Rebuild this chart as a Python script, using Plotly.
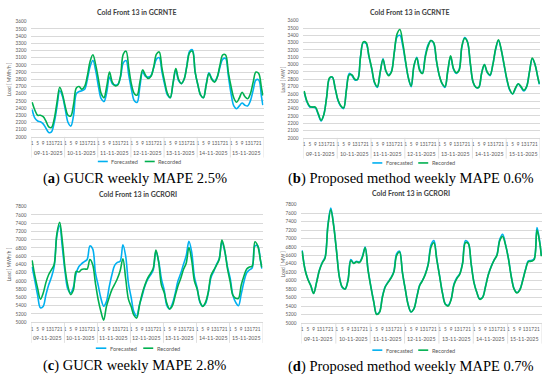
import plotly.graph_objects as go

W, H = 550, 382

DATES = ["09-11-2025", "10-11-2025", "11-11-2025", "12-11-2025",
         "13-11-2025", "14-11-2025", "15-11-2025"]
HOUR_TICKS = [1, 5, 9, 13, 17, 21]
SAMPLE_HOURS = [1, 3, 5, 7, 9, 11, 13, 15, 17, 19, 21, 23]
FINAL_HOUR = 24
SERIES_NAMES = ["Forecasted", "Recorded"]

# ---- (a) GCRNTE, GUCR forecast [MWh/h] ----
A_FORECASTED = [
    2380, 2260, 2220, 2210, 2180, 2120, 2060, 2070, 2200, 2420, 2640, 2560,
    2380, 2200, 2150, 2300, 2600, 2630, 2640, 2660, 2800, 2980, 3060, 2920,
    2700, 2530, 2490, 2620, 2830, 2740, 2720, 2730, 2830, 3030, 3060, 2850,
    2650, 2500, 2480, 2700, 2900, 2840, 2830, 2850, 2960, 3080, 3100, 2900,
    2720, 2580, 2545, 2740, 2930, 2780, 2740, 2800, 2990, 3190, 3210, 2900,
    2720, 2580, 2545, 2730, 2890, 2810, 2770, 2830, 2970, 3080, 3090, 2850,
    2600, 2430, 2390, 2430, 2470, 2440, 2430, 2500, 2650, 2790, 2790, 2560,
    2440]
A_RECORDED = [
    2480, 2370, 2300, 2300, 2280, 2220, 2140, 2130, 2250, 2480, 2690, 2590,
    2420, 2300, 2290, 2450, 2680, 2700, 2660, 2700, 2850, 3050, 3140, 3000,
    2800, 2600, 2545, 2700, 2900, 2760, 2710, 2720, 2850, 3150, 3190, 2950,
    2720, 2600, 2580, 2760, 2930, 2860, 2810, 2840, 2970, 3150, 3180, 2950,
    2760, 2600, 2545, 2750, 2950, 2800, 2740, 2800, 2980, 3170, 3190, 2900,
    2720, 2580, 2545, 2720, 2880, 2800, 2760, 2830, 3000, 3140, 3140, 2900,
    2700, 2540, 2480, 2540, 2620, 2560, 2530, 2600, 2760, 2900, 2880, 2680,
    2575]

# ---- (b) GCRNTE, proposed method [MW] ----
B_FORECASTED = [
    2630, 2490, 2420, 2420, 2410, 2320, 2230, 2320, 2560, 2810, 2830, 2680,
    2510, 2430, 2400, 2660, 2880, 2850, 2790, 2800, 3110, 3300, 3290, 3110,
    2940, 2750, 2690, 2890, 3080, 2910, 2860, 2910, 3160, 3380, 3400, 3260,
    3030, 2820, 2700, 2980, 3100, 2940, 2880, 3120, 3270, 3330, 3290, 3040,
    2850, 2740, 2690, 2910, 3110, 2940, 2880, 2930, 3240, 3370, 3310, 3010,
    2760, 2690, 2690, 2880, 3000, 2890, 2850, 3000, 3210, 3330, 3200, 2990,
    2790, 2650, 2600, 2670, 2740, 2690, 2640, 2700, 2900, 3080, 3000, 2820,
    2730]
B_RECORDED = [
    2640, 2500, 2430, 2420, 2420, 2330, 2240, 2320, 2560, 2820, 2830, 2680,
    2520, 2440, 2410, 2650, 2860, 2860, 2800, 2800, 3100, 3310, 3300, 3120,
    2950, 2760, 2700, 2900, 3070, 2920, 2850, 2900, 3170, 3420, 3480, 3300,
    3050, 2820, 2710, 2990, 3090, 2920, 2880, 3100, 3250, 3330, 3300, 3050,
    2850, 2740, 2700, 2920, 3120, 2950, 2890, 2920, 3250, 3360, 3310, 3020,
    2760, 2690, 2690, 2880, 3000, 2900, 2860, 3000, 3220, 3340, 3200, 3000,
    2800, 2660, 2600, 2680, 2740, 2700, 2650, 2700, 2900, 3090, 3000, 2820,
    2740]

# ---- (c) GCRORI, GUCR forecast [MWh/h] ----
C_FORECASTED = [
    6340, 6000, 5650, 5350, 5380, 5660, 5900, 6090, 6350, 7100, 7340, 6800,
    6200, 5800, 5710, 5850, 6180, 6350, 6420, 6470, 6520, 6850, 6780, 6200,
    5900, 5580, 5390, 5500, 5850, 6150, 6380, 6450, 6480, 6880, 6600, 5950,
    5600, 5250, 5150, 5420, 5640, 5880, 6040, 6140, 6260, 6720, 6480, 6050,
    5780, 5400, 5320, 5450, 5700, 6000, 6180, 6400, 6610, 6960, 6700, 6100,
    5830, 5480, 5390, 5450, 5700, 6080, 6230, 6400, 6540, 6950, 6720, 6350,
    6060, 5650, 5480, 5400, 5680, 5980, 6200, 6270, 6320, 6850, 6850, 6500,
    6300]
C_RECORDED = [
    6500, 6120, 5820, 5560, 5700, 5960, 6150, 6270, 6400, 7150, 7420, 6950,
    6280, 5880, 5670, 5780, 6230, 6220, 6280, 6290, 6290, 6520, 6400, 5950,
    5550, 5260, 5050, 5380, 5600, 5790, 5920, 6060, 6250, 6540, 6060, 5560,
    5380, 5170, 5100, 5400, 5690, 5900, 6070, 6180, 6300, 6750, 6450, 5900,
    5720, 5450, 5320, 5400, 5640, 5880, 6060, 6280, 6430, 6810, 6500, 6000,
    5800, 5500, 5380, 5480, 5720, 6130, 6260, 6380, 6520, 6990, 6750, 6300,
    5980, 5650, 5580, 5580, 5900, 6120, 6290, 6340, 6360, 6950, 6850, 6500,
    6330]

# ---- (d) GCRORI, proposed method [MW] ----
D_FORECASTED = [
    6720, 6270, 6040, 5890, 5700, 5960, 6250, 6430, 6560, 7330, 7720, 7320,
    6700, 6090, 5840, 5810, 6020, 6500, 6420, 6460, 6440, 6570, 6800, 6260,
    5860, 5500, 5210, 5260, 5620, 5860, 5970, 6070, 6220, 6640, 6700, 6200,
    5800, 5440, 5260, 5330, 5610, 5890, 6010, 6160, 6390, 6850, 6950, 6520,
    6110, 5710, 5450, 5420, 5560, 5920, 6070, 6160, 6420, 6950, 6900, 6410,
    5960, 5720, 5570, 5610, 5860, 6140, 6340, 6490, 6610, 6980, 7100, 6860,
    6540, 6110, 5810, 5720, 5790, 6010, 6270, 6470, 6480, 6520, 7260, 6900,
    6600]
D_RECORDED = [
    6700, 6260, 6030, 5880, 5700, 5950, 6240, 6420, 6540, 7300, 7680, 7300,
    6700, 6080, 5850, 5800, 6000, 6480, 6410, 6450, 6430, 6550, 6780, 6250,
    5850, 5500, 5200, 5250, 5600, 5850, 5960, 6060, 6200, 6600, 6680, 6200,
    5800, 5430, 5260, 5330, 5600, 5880, 6000, 6150, 6380, 6800, 6900, 6500,
    6100, 5700, 5440, 5400, 5550, 5900, 6050, 6150, 6400, 6900, 6880, 6400,
    5950, 5720, 5560, 5600, 5850, 6140, 6330, 6480, 6600, 6950, 7050, 6850,
    6530, 6100, 5800, 5710, 5780, 6000, 6260, 6450, 6460, 6500, 7200, 6880,
    6580]

TITLES = ["Cold Front 13 in GCRNTE", "Cold Front 13 in GCRNTE",
          "Cold Front 13 in GCRORI", "Cold Front 13 in GCRORI"]
Y_TITLES = ["Load [ MWh/h ]", "Load [ MW ]", "Load [ MWh/h ]", "Load [ MW ]"]
CAPTIONS = ["(<b>a</b>) GUCR weekly MAPE 2.5%",
            "(<b>b</b>) Proposed method weekly MAPE 0.6%",
            "(<b>c</b>) GUCR weekly MAPE 2.8%",
            "(<b>d</b>) Proposed method weekly MAPE 0.7%"]
Y_RANGES = [(2000, 3600), (2000, 3600), (5000, 7800), (5000, 7800)]
Y_STEPS = [100, 100, 200, 200]
SERIES = [(A_FORECASTED, A_RECORDED), (B_FORECASTED, B_RECORDED),
          (C_FORECASTED, C_RECORDED), (D_FORECASTED, D_RECORDED)]

# ---- layout geometry (pixels) ----
GEOM = [
    dict(l=30.5, r=263, t=19, b=136, title=(136, 9), yt=8, cap=(134, 178),
         leg=(161, 97, 107, 108.5, 144, 154, 155.5)),
    dict(l=303, r=540, t=18, b=137, title=(410, 9), yt=283, cap=(411, 178),
         leg=(162.5, 372, 382, 383.5, 418, 428, 429.5)),
    dict(l=30.5, r=262, t=207, b=324.3, title=(137, 194.5), yt=8, cap=(134, 368.5),
         leg=(350.7, 95, 105.5, 107, 142.5, 152.5, 154)),
    dict(l=301, r=542, t=205, b=325, title=(411, 193), yt=282, cap=(411, 369),
         leg=(352.7, 372, 382, 383.5, 418, 428, 429.5)),
]

BLUE = "#00B0F0"
GREEN = "#00B050"
GRID = "#D9D9D9"
TXT = "#595959"
SANS = "Lato"
SERIF = "Liberation Serif"


def px(x):
    return x / W


def py(y):
    return 1 - y / H


ndays = len(DATES)
xs = [d * 24 + h - 1 for d in range(ndays) for h in SAMPLE_HOURS]
xs.append((ndays - 1) * 24 + FINAL_HOUR - 1)
tickvals = [d * 24 + h - 1 for d in range(ndays) for h in HOUR_TICKS]
ticktext = [str(h) for d in range(ndays) for h in HOUR_TICKS]

fig = go.Figure()
shapes, annotations = [], []

for i, (g, (fc, rc)) in enumerate(zip(GEOM, SERIES)):
    n = i + 1
    xa = "x" if n == 1 else f"x{n}"
    ya = "y" if n == 1 else f"y{n}"
    for vals, color, name in ((fc, BLUE, SERIES_NAMES[0]), (rc, GREEN, SERIES_NAMES[1])):
        fig.add_trace(go.Scatter(
            x=xs, y=vals, xaxis=xa, yaxis=ya, mode="lines", name=name,
            line=dict(color=color, width=1.6, shape="spline", smoothing=1.0),
            showlegend=False, hoverinfo="skip"))

    xkey = "xaxis" if n == 1 else f"xaxis{n}"
    ykey = "yaxis" if n == 1 else f"yaxis{n}"
    fig.update_layout({
        xkey: dict(domain=[px(g["l"]), px(g["r"])], range=[-0.5, ndays * 24 - 0.5],
                   anchor=ya, tickmode="array", tickvals=tickvals, ticktext=ticktext,
                   tickangle=0, tickfont=dict(family=SANS, size=4.7, color=TXT),
                   showgrid=False, zeroline=False, showline=True, linecolor=GRID,
                   linewidth=0.8, ticks="", ticklabelstandoff=2, fixedrange=True),
        ykey: dict(domain=[py(g["b"]), py(g["t"])], range=list(Y_RANGES[i]),
                   anchor=xa, dtick=Y_STEPS[i], tick0=Y_RANGES[i][0],
                   tickfont=dict(family=SANS, size=4.7, color=TXT),
                   showgrid=True, gridcolor=GRID, gridwidth=0.8, zeroline=False,
                   showline=False, ticks="", ticklabelstandoff=4, fixedrange=True),
    })

    # category group dividers and date labels
    for d in range(ndays + 1):
        shapes.append(dict(type="line", xref=xa, yref="paper",
                           x0=d * 24 - 0.5, x1=d * 24 - 0.5,
                           y0=py(g["b"]), y1=py(g["b"] + 21),
                           line=dict(color=GRID, width=0.8)))
    for d, lab in enumerate(DATES):
        annotations.append(dict(x=d * 24 + 11.5, y=py(g["b"] + 16), xref=xa, yref="paper",
                                text=lab, showarrow=False, xanchor="center", yanchor="middle",
                                font=dict(family=SANS, size=5.3, color=TXT)))

    # chart title
    annotations.append(dict(x=px(g["title"][0]), y=py(g["title"][1]), xref="paper", yref="paper",
                            text=f"<b>{TITLES[i]}</b>", showarrow=False,
                            xanchor="center", yanchor="middle",
                            font=dict(family=SANS, size=7.0, color="#404040")))
    # y-axis title
    annotations.append(dict(x=px(g["yt"]), y=py((g["t"] + g["b"]) / 2), xref="paper", yref="paper",
                            text=Y_TITLES[i], showarrow=False, textangle=-90,
                            xanchor="center", yanchor="middle",
                            font=dict(family=SANS, size=4.8, color=TXT)))
    # legend
    ly, b0, b1, bt, g0, g1, gt = g["leg"]
    shapes.append(dict(type="line", xref="paper", yref="paper", x0=px(b0), x1=px(b1),
                       y0=py(ly), y1=py(ly), line=dict(color=BLUE, width=1.6)))
    shapes.append(dict(type="line", xref="paper", yref="paper", x0=px(g0), x1=px(g1),
                       y0=py(ly), y1=py(ly), line=dict(color=GREEN, width=1.6)))
    for tx, name in ((bt, SERIES_NAMES[0]), (gt, SERIES_NAMES[1])):
        annotations.append(dict(x=px(tx), y=py(ly), xref="paper", yref="paper", text=name,
                                showarrow=False, xanchor="left", yanchor="middle",
                                font=dict(family=SANS, size=5.6, color=TXT)))
    # caption
    annotations.append(dict(x=px(g["cap"][0]), y=py(g["cap"][1]), xref="paper", yref="paper",
                            text=CAPTIONS[i], showarrow=False, xanchor="center", yanchor="middle",
                            font=dict(family=SERIF, size=14.5, color="#000000")))

fig.update_layout(width=W, height=H, margin=dict(l=0, r=0, t=0, b=0),
                  paper_bgcolor="white", plot_bgcolor="white",
                  shapes=shapes, annotations=annotations, showlegend=False)

fig.write_html("out.html", config={"displayModeBar": False},
               post_script="document.body.style.margin='0';document.body.style.overflow='hidden';")
